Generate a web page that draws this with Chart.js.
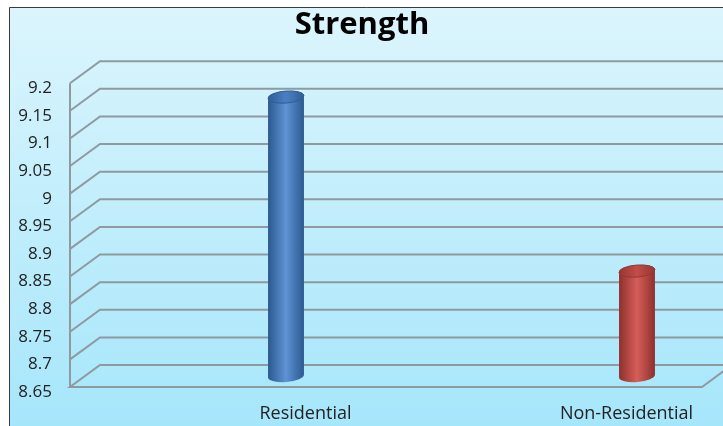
<!DOCTYPE html>
<html>
<head>
<meta charset="utf-8">
<script src="https://cdn.jsdelivr.net/npm/chart.js@4/dist/chart.umd.min.js"></script>
<style>
  html, body { margin: 0; padding: 0; background: #fff; }
  #wrap { position: relative; width: 723px; height: 426px; }
</style>
</head>
<body>
<div id="wrap"><canvas id="strengthChart" width="723" height="426"></canvas></div>
<script>
const categories = ['Residential', 'Non-Residential'];
const strength = [9.155, 8.84];
const yMin = 8.65;
const yMax = 9.2;
const yStep = 0.05;

// cylinder colours: [edge, centre, cap, rim]
const barPalette = [
    ['#2b5890', '#5f93d4', '#4c7fc2', '#2f5e98'],
    ['#8e302d', '#d55e5a', '#c24d49', '#973633']
];

// oblique 3D offset of the back wall
const DEPTH_X = 30;
const DEPTH_Y = 22;

const backdrop = {
    id: 'backdrop',
    beforeDraw(chart) {
        const c = chart.ctx;
        const w = chart.width, h = chart.height;
        c.save();
        c.fillStyle = '#ffffff';
        c.fillRect(0, 0, w, h);
        const g = c.createLinearGradient(0, 7, 0, h);
        g.addColorStop(0, '#dcf5fd');
        g.addColorStop(1, '#a6e6fb');
        c.fillStyle = g;
        c.fillRect(9, 7, w - 9, h - 7);
        c.strokeStyle = '#3a3a3a';
        c.lineWidth = 1;
        c.beginPath();
        c.moveTo(9.5, h);
        c.lineTo(9.5, 7.5);
        c.lineTo(w, 7.5);
        c.stroke();
        c.restore();
    }
};

const walls = {
    id: 'walls',
    beforeDatasetsDraw(chart) {
        const c = chart.ctx;
        const y = chart.scales.y;
        const a = chart.chartArea;
        const floorEnd = a.right - 10;
        c.save();
        c.strokeStyle = '#8e9aa0';
        c.lineWidth = 2;
        y.ticks.forEach(t => {
            const py = y.getPixelForValue(t.value);
            if (Math.abs(py - a.bottom) < 1) return;
            c.beginPath();
            c.moveTo(a.left, py);
            c.lineTo(a.left + DEPTH_X, py - DEPTH_Y);
            c.lineTo(chart.width, py - DEPTH_Y);
            c.stroke();
        });
        // floor
        c.beginPath();
        c.moveTo(chart.width, a.bottom - DEPTH_Y);
        c.lineTo(a.left + DEPTH_X, a.bottom - DEPTH_Y);
        c.lineTo(a.left, a.bottom);
        c.lineTo(floorEnd, a.bottom);
        c.lineTo(floorEnd + DEPTH_X, a.bottom - DEPTH_Y);
        c.stroke();
        // value axis
        c.beginPath();
        c.moveTo(a.left, a.top);
        c.lineTo(a.left, a.bottom);
        c.stroke();
        c.restore();
    }
};

const cylinders = {
    id: 'cylinders',
    afterDatasetsDraw(chart) {
        const c = chart.ctx;
        const meta = chart.getDatasetMeta(0);
        const rx = 18, ry = 6, rot = -0.08;
        const dy = DEPTH_Y / 2;
        meta.data.forEach((bar, i) => {
            const [edge, mid, cap, rim] = barPalette[i];
            const cx = bar.x;
            const top = bar.y - dy;
            const bot = bar.base - dy;
            c.save();
            const g = c.createLinearGradient(cx - rx, 0, cx + rx, 0);
            g.addColorStop(0, edge);
            g.addColorStop(0.5, mid);
            g.addColorStop(1, edge);
            c.fillStyle = g;
            c.beginPath();
            c.ellipse(cx, bot, rx, ry, rot, Math.PI, 0, true);
            c.ellipse(cx, top, rx, ry, rot, 0, Math.PI, true);
            c.closePath();
            c.fill();
            const gc = c.createLinearGradient(cx - rx, 0, cx + rx, 0);
            gc.addColorStop(0, rim);
            gc.addColorStop(0.5, cap);
            gc.addColorStop(1, rim);
            c.fillStyle = gc;
            c.beginPath();
            c.ellipse(cx, top, rx, ry, rot, 0, Math.PI * 2);
            c.fill();
            c.strokeStyle = rim;
            c.lineWidth = 1;
            c.stroke();
            c.restore();
        });
    }
};

new Chart(document.getElementById('strengthChart'), {
    type: 'bar',
    data: {
        labels: categories,
        datasets: [{
            data: strength.map((v, i) => ({ x: i, y: v })),
            base: yMin,
            xAxisID: 'xb',
            backgroundColor: 'rgba(0,0,0,0)',
            borderWidth: 0
        }]
    },
    options: {
        responsive: false,
        animation: false,
        layout: { padding: { left: 12, right: 11, top: 0, bottom: 0 } },
        plugins: {
            legend: { display: false },
            tooltip: { enabled: false },
            title: {
                display: true,
                text: 'Strength',
                color: '#000',
                font: { family: 'Open Sans', size: 31, weight: 'bold' },
                padding: { top: 7, bottom: 39 }
            }
        },
        scales: {
            x: {
                type: 'category',
                offset: true,
                grid: { display: false, drawTicks: false },
                border: { display: false },
                ticks: {
                    color: '#222',
                    font: { family: 'Open Sans', size: 18 },
                    padding: 16,
                    labelOffset: 75,
                    maxRotation: 0
                },
                afterFit(s) { s.height = 39; }
            },
            xb: {
                type: 'linear',
                display: false,
                offset: false,
                min: -0.6154,
                max: 1.2137
            },
            y: {
                min: yMin,
                max: yMax,
                grid: { display: false, drawTicks: false },
                border: { display: false },
                ticks: {
                    stepSize: yStep,
                    color: '#222',
                    font: { family: 'Open Sans', size: 17 },
                    padding: 18,
                    labelOffset: 5,
                    callback: v => String(parseFloat(v.toFixed(2)))
                },
                afterFit(s) { s.width = 58; }
            }
        }
    },
    plugins: [backdrop, walls, cylinders]
});
</script>
</body>
</html>
